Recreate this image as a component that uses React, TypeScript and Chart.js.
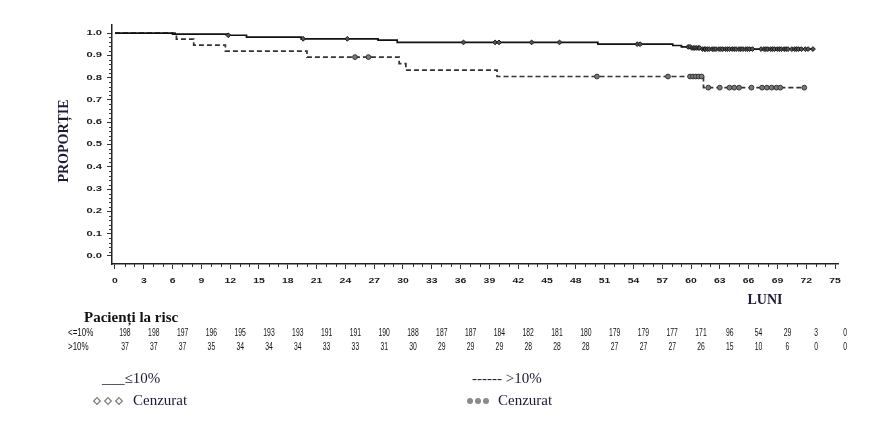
import React, { useEffect, useRef } from "react";
import { Chart, registerables } from "chart.js";

Chart.register(...registerables);

// Axis tick values
const monthTicks = [0, 3, 6, 9, 12, 15, 18, 21, 24, 27, 30, 33, 36, 39, 42, 45, 48, 51, 54, 57, 60, 63, 66, 69, 72, 75];
const proportionTicks = [0, 0.1, 0.2, 0.3, 0.4, 0.5, 0.6, 0.7, 0.8, 0.9, 1.0];

// Kaplan-Meier estimate, group <=10% (event times in months, proportion after the event)
const lowTimes = [0, 6.0, 11.8, 13.7, 19.4, 27.4, 29.4, 50.3, 58.1, 59.0, 60.0, 61.0, 72.7];
const lowSurvival = [1.0, 0.995, 0.99, 0.982, 0.974, 0.968, 0.958, 0.95, 0.944, 0.938, 0.933, 0.928, 0.928];

// Kaplan-Meier estimate, group >10%
const highTimes = [0, 6.4, 8.2, 11.5, 20.0, 29.6, 30.3, 39.8, 61.3, 71.9];
const highSurvival = [1.0, 0.973, 0.946, 0.919, 0.892, 0.863, 0.834, 0.805, 0.755, 0.755];

// Censoring times (months)
const lowCensored = [
  11.8, 19.6, 24.2, 36.3, 39.6, 40.0, 43.4, 46.3, 54.4, 54.7, 59.7, 59.9, 60.1, 60.3, 60.4, 60.6,
  60.8, 60.9, 61.2, 61.4, 61.5, 61.7, 61.9, 62.2, 62.4, 62.6, 62.9, 63.1, 63.3, 63.6, 63.8, 64.0,
  64.3, 64.5, 64.7, 65.0, 65.2, 65.4, 65.7, 65.9, 66.1, 66.4, 67.3, 67.6, 67.8, 68.0, 68.3, 68.5,
  68.7, 69.0, 69.2, 69.4, 69.7, 69.9, 70.1, 70.5, 70.8, 71.0, 71.2, 71.5, 71.9, 72.2, 72.7,
];
const highCensored = [
  25.0, 26.4, 50.2, 57.6, 59.9, 60.2, 60.5, 60.8, 61.1, 61.8, 63.0, 64.0, 64.5, 65.0, 66.3, 67.4,
  67.9, 68.4, 68.9, 69.3, 71.8,
];

// Patients at risk at each month tick
const riskRowLabels = ["<=10%", ">10%"];
const riskLow = [198, 198, 197, 196, 195, 193, 193, 191, 191, 190, 188, 187, 187, 184, 182, 181, 180, 179, 179, 177, 171, 96, 54, 29, 3, 0];
const riskHigh = [37, 37, 37, 35, 34, 34, 34, 33, 33, 31, 30, 29, 29, 29, 28, 28, 28, 27, 27, 27, 26, 15, 10, 6, 0, 0];

const TEXT_DARK = "#1b1b33";
const SERIF = '"Liberation Serif", "Times New Roman", serif';
const SANS = '"Liberation Sans", Arial, sans-serif';

function survivalAt(times: number[], surv: number[], t: number): number {
  let value = surv[0];
  for (let i = 0; i < times.length; i++) {
    if (times[i] <= t) value = surv[i];
  }
  return value;
}

const curve = (times: number[], surv: number[]) => times.map((t, i) => ({ x: t, y: surv[i] }));
const censorPoints = (cens: number[], times: number[], surv: number[]) =>
  cens.map((t) => ({ x: t, y: survivalAt(times, surv, t) }));

const decorations = {
  id: "decorations",
  afterDraw(chart: any) {
    const { ctx, chartArea } = chart;
    const x = chart.scales.x;
    const y = chart.scales.y;
    ctx.save();

    // minor tick marks
    ctx.strokeStyle = "#333";
    ctx.lineWidth = 1;
    ctx.beginPath();
    for (let m = 0; m <= 75; m++) {
      if (m % 3 === 0) continue;
      const px = Math.round(x.getPixelForValue(m)) + 0.5;
      ctx.moveTo(px, chartArea.bottom);
      ctx.lineTo(px, chartArea.bottom + 3);
    }
    for (let k = 0; k <= 50; k++) {
      if (k % 5 === 0) continue;
      const py = Math.round(y.getPixelForValue(k / 50)) + 0.5;
      ctx.moveTo(chartArea.left, py);
      ctx.lineTo(chartArea.left - 3, py);
    }
    ctx.stroke();

    // tick labels
    ctx.fillStyle = "#1a1a1a";
    ctx.font = `bold 8px ${SANS}`;
    ctx.textBaseline = "middle";
    ctx.textAlign = "center";
    monthTicks.forEach((v) => {
      ctx.save();
      ctx.translate(x.getPixelForValue(v), 281);
      ctx.scale(1.3, 0.9);
      ctx.fillText(String(v), 0, 0);
      ctx.restore();
    });
    ctx.textAlign = "right";
    proportionTicks.forEach((v) => {
      ctx.save();
      ctx.translate(102, y.getPixelForValue(v));
      ctx.scale(1.4, 0.9);
      ctx.fillText(v.toFixed(1), 0, 0);
      ctx.restore();
    });

    // axis titles
    ctx.fillStyle = TEXT_DARK;
    ctx.font = `bold 14px ${SERIF}`;
    ctx.textAlign = "center";
    ctx.save();
    ctx.translate(64, 141);
    ctx.rotate(-Math.PI / 2);
    ctx.fillText("PROPORȚIE", 0, 0);
    ctx.restore();
    ctx.fillText("LUNI", 765, 300);

    // patients-at-risk table
    ctx.fillStyle = "#111";
    ctx.font = `bold 15px ${SERIF}`;
    ctx.textAlign = "left";
    ctx.fillText("Pacienți la risc", 84, 318);

    ctx.fillStyle = "#111";
    ctx.font = `10px ${SANS}`;
    const rows = [riskLow, riskHigh];
    const rowY = [333, 347];
    riskRowLabels.forEach((label, r) => {
      ctx.save();
      ctx.translate(68, rowY[r]);
      ctx.scale(0.8, 1);
      ctx.textAlign = "left";
      ctx.fillText(label, 0, 0);
      ctx.restore();
      rows[r].forEach((n, i) => {
        ctx.save();
        ctx.translate(x.getPixelForValue(monthTicks[i]) + 10, rowY[r]);
        ctx.scale(0.68, 1);
        ctx.textAlign = "center";
        ctx.fillText(String(n), 0, 0);
        ctx.restore();
      });
    });

    // legend
    ctx.fillStyle = TEXT_DARK;
    ctx.font = `15px ${SERIF}`;
    ctx.textAlign = "left";
    ctx.fillText("___≤10%", 102, 379);
    ctx.fillText("------ >10%", 472, 379);
    ctx.fillText("Cenzurat", 133, 401);
    ctx.fillText("Cenzurat", 498, 401);

    ctx.strokeStyle = "#7a7a7a";
    ctx.lineWidth = 1.2;
    [97, 108, 119].forEach((cx) => {
      ctx.beginPath();
      ctx.moveTo(cx, 401 - 3.3);
      ctx.lineTo(cx + 3.3, 401);
      ctx.lineTo(cx, 401 + 3.3);
      ctx.lineTo(cx - 3.3, 401);
      ctx.closePath();
      ctx.stroke();
    });
    ctx.fillStyle = "#8a8a8a";
    [470, 478, 486].forEach((cx) => {
      ctx.beginPath();
      ctx.arc(cx, 401, 3, 0, Math.PI * 2);
      ctx.fill();
    });

    ctx.restore();
  },
};

export default function App() {
  const canvasRef = useRef<HTMLCanvasElement>(null);

  useEffect(() => {
    const canvas = canvasRef.current;
    if (!canvas) return;
    const chart = new Chart(canvas, {
      type: "line",
      data: {
        datasets: [
          {
            label: "≤10% Cenzurat",
            data: censorPoints(lowCensored, lowTimes, lowSurvival),
            showLine: false,
            pointStyle: "rectRot",
            pointRadius: 2.4,
            pointBorderWidth: 1,
            pointBorderColor: "#161616",
            pointBackgroundColor: "#555555",
            order: 0,
          },
          {
            label: ">10% Cenzurat",
            data: censorPoints(highCensored, highTimes, highSurvival),
            showLine: false,
            pointStyle: "circle",
            pointRadius: 2.4,
            pointBorderWidth: 1,
            pointBorderColor: "#333",
            pointBackgroundColor: "#7a7a7a",
            order: 0,
          },
          {
            label: "≤10%",
            data: curve(lowTimes, lowSurvival),
            stepped: true,
            borderColor: "#111111",
            borderWidth: 1.7,
            pointRadius: 0,
            order: 1,
          },
          {
            label: ">10%",
            data: curve(highTimes, highSurvival),
            stepped: true,
            borderColor: "#333333",
            borderWidth: 1.7,
            borderDash: [5, 3],
            pointRadius: 0,
            order: 1,
          },
        ],
      },
      options: {
        responsive: false,
        animation: false,
        devicePixelRatio: 1,
        layout: { padding: { left: 0, top: 25, right: 56, bottom: 0 } },
        plugins: { legend: { display: false }, tooltip: { enabled: false } },
        scales: {
          x: {
            type: "linear",
            min: -0.31,
            max: 75.31,
            afterBuildTicks: (s: any) => {
              s.ticks = monthTicks.map((v) => ({ value: v }));
            },
            afterFit: (s: any) => {
              s.height = 163;
            },
            ticks: { display: false },
            grid: { drawOnChartArea: false, drawTicks: true, tickLength: 5, color: "#333", lineWidth: 1 },
            border: { display: true, color: "#222", width: 1.5 },
          },
          y: {
            type: "linear",
            min: -0.036,
            max: 1.036,
            afterBuildTicks: (s: any) => {
              s.ticks = proportionTicks.map((v) => ({ value: v }));
            },
            afterFit: (s: any) => {
              s.width = 112;
            },
            ticks: { display: false },
            grid: { drawOnChartArea: false, drawTicks: true, tickLength: 5, color: "#333", lineWidth: 1 },
            border: { display: true, color: "#222", width: 1.5 },
          },
        },
      },
      plugins: [decorations],
    } as any);
    return () => chart.destroy();
  }, []);

  return (
    <canvas
      ref={canvasRef}
      width={894}
      height={427}
      style={{ position: "fixed", left: 0, top: 0, width: 894, height: 427, background: "#fff" }}
    />
  );
}
